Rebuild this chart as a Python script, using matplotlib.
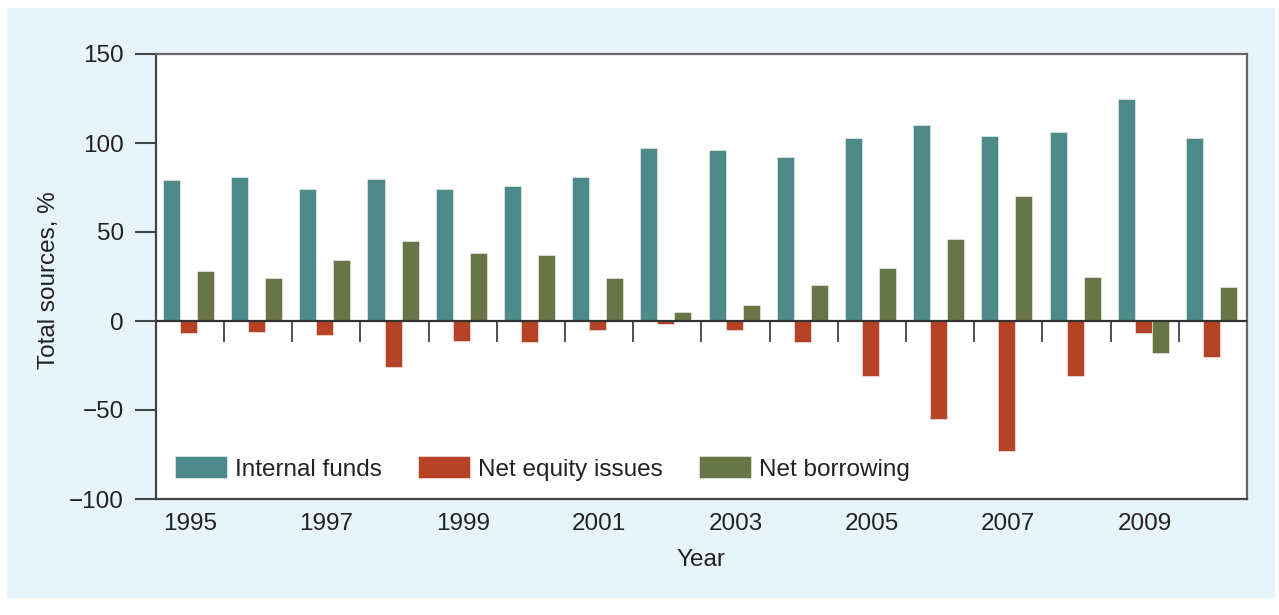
import matplotlib
matplotlib.use("Agg")
import matplotlib.pyplot as plt
from matplotlib.patches import Rectangle
import numpy as np

plt.rcParams['font.family'] = ['Liberation Sans', 'DejaVu Sans']

# ========== data ==========
years = list(range(1995, 2011))
internal_funds = [79, 81, 74, 80, 74, 76, 81, 97, 96, 92, 103, 110, 104, 106, 125, 103]
net_equity = [-7, -6, -8, -26, -11, -12, -5, -1.5, -5, -12, -31, -55, -73, -31, -7, -20]
net_borrowing = [28, 24, 34, 45, 38, 37, 24, 5, 9, 20, 30, 46, 70, 25, -18, 19]
year_labels = [str(y) for y in years[::2]]

series_names = ["Internal funds", "Net equity issues", "Net borrowing"]
colors = ["#4E8A89", "#B54325", "#687546"]
FS = 17.5

# ========== figure ==========
fig = plt.figure(figsize=(12.79, 6.15), dpi=100, facecolor="white")
fig.patches.append(Rectangle((7 / 1279, 1 - 598 / 615), (1275 - 7) / 1279, (598 - 8) / 615,
                             transform=fig.transFigure, facecolor="#E8F4FC",
                             edgecolor="none", zorder=-10))
ax = fig.add_axes([155.7 / 1279, 1 - 499 / 615, (1247 - 155.7) / 1279, (499 - 54) / 615])
ax.set_facecolor("white")

x = np.arange(len(years))
w = 0.25
for vals, off, c, name in zip([internal_funds, net_equity, net_borrowing],
                              [-0.27, -0.02, 0.23], colors, series_names):
    ax.bar(x + off, vals, width=w, color=c, label=name, zorder=2,
           edgecolor="#f4f4f4", linewidth=0.4)

# zero line and group separators
ax.axhline(0, color="#333333", linewidth=1.6, zorder=3)
ax.vlines(x[:-1] + 0.5, -12, 0, color="#333333", linewidth=1.2, zorder=3)

ax.set_xlim(-0.5, len(years) - 0.5)
ax.set_ylim(-100, 150)
ax.set_yticks([-100, -50, 0, 50, 100, 150])
ax.set_xticks(x[::2])
ax.set_xticklabels(year_labels)

ax.tick_params(axis="y", length=15, width=1.5, color="#444444", pad=8,
               labelsize=FS, labelcolor="#222222")
ax.tick_params(axis="x", length=0, pad=10, labelsize=FS, labelcolor="#222222")

for side in ["left", "bottom"]:
    ax.spines[side].set_color("#444444")
    ax.spines[side].set_linewidth(1.6)
for side in ["top", "right"]:
    ax.spines[side].set_color("#666666")
    ax.spines[side].set_linewidth(1.6)

ax.set_ylabel("Total sources, %", fontsize=FS, color="#222222")
ax.yaxis.set_label_coords(-0.0877, 0.492)
ax.set_xlabel("Year", fontsize=FS, color="#222222")
ax.xaxis.set_label_coords(0.5, -0.112)

ax.legend(loc="lower left", bbox_to_anchor=(-0.002, -0.008), ncol=3, frameon=False,
          fontsize=FS, handlelength=2.14, handleheight=1.0, handletextpad=0.33,
          columnspacing=1.48, labelcolor="#222222")

plt.savefig("out.png", dpi=100, facecolor=fig.get_facecolor())
plt.close()
